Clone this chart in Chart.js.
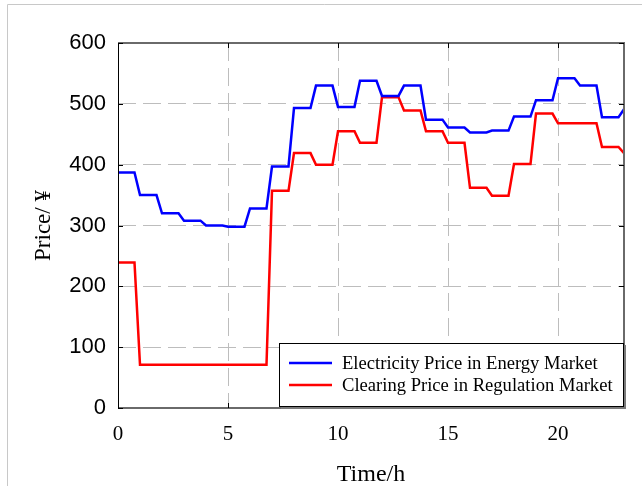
<!DOCTYPE html>
<html>
<head>
<meta charset="utf-8">
<script src="https://cdn.jsdelivr.net/npm/chart.js@4"></script>
<style>
html,body{margin:0;padding:0;background:#fff;}
#wrap{width:642px;height:486px;position:relative;}
</style>
</head>
<body>
<div id="wrap"><canvas id="c" width="642" height="486"></canvas></div>
<script>
const hours = [0,1,2,3,4,5,6,7,8,9,10,11,12,13,14,15,16,17,18,19,20,21,22,23];
const energyPrice = [387,350,320,308,300,298,328,397,493,530,495,538,513,530,474,461,453,456,479,506,542,530,478,491];
const regulationPrice = [239,71,71,71,71,71,71,357,419,400,455,436,511,489,455,436,362,349,401,484,468,468,429,419];
const xTicks = [0,5,10,15,20];
const yTicks = [0,100,200,300,400,500,600];
const seriesNames = ['Electricity Price in Energy Market','Clearing Price in Regulation Market'];
const holdFraction = 0.75; // each hourly value is held for this part of the hour

function toPoints(values){
  const pts = [];
  hours.forEach((h,i)=>{
    pts.push({x:h, y:values[i]});
    if (i < hours.length-1) pts.push({x:h+holdFraction, y:values[i]});
  });
  return pts;
}

const serif = "'Liberation Serif','Times New Roman',serif";
const sans = "'Liberation Sans',Arial,sans-serif";

const framePlugin = {
  id:'frame',
  beforeDraw(chart){
    const ctx = chart.ctx;
    ctx.save();
    ctx.strokeStyle = '#c8c8c8';
    ctx.lineWidth = 1;
    ctx.beginPath();
    ctx.moveTo(7.5,486); ctx.lineTo(7.5,4.5); ctx.lineTo(642,4.5);
    ctx.stroke();
    ctx.restore();
  },
  afterDatasetsDraw(chart){
    const ctx = chart.ctx;
    const a = chart.chartArea;
    const xs = chart.scales.x, ys = chart.scales.y;
    ctx.save();
    ctx.strokeStyle = '#6a6a6a';
    ctx.lineWidth = 2;
    ctx.beginPath();
    ctx.moveTo(a.left, a.top); ctx.lineTo(a.right, a.top); ctx.lineTo(a.right, a.bottom); ctx.lineTo(a.left, a.bottom);
    ctx.stroke();
    ctx.strokeStyle = '#000';
    ctx.lineWidth = 1;
    ctx.beginPath();
    ctx.moveTo(a.left+0.5, a.top); ctx.lineTo(a.left+0.5, a.bottom);
    ctx.stroke();
    ctx.beginPath();
    xTicks.forEach(v=>{
      const px = Math.round(xs.getPixelForValue(v))+0.5;
      ctx.moveTo(px, a.bottom); ctx.lineTo(px, a.bottom-5);
      ctx.moveTo(px, a.top); ctx.lineTo(px, a.top+5);
    });
    yTicks.forEach(v=>{
      const py = Math.round(ys.getPixelForValue(v))+0.5;
      ctx.moveTo(a.left, py); ctx.lineTo(a.left+5, py);
      ctx.moveTo(a.right, py); ctx.lineTo(a.right-5, py);
    });
    ctx.stroke();
    // legend
    const bx=279, by=343, bw=344, bh=63;
    ctx.fillStyle='#fff';
    ctx.fillRect(bx,by,bw,bh);
    ctx.strokeStyle='#000';
    ctx.lineWidth=1;
    ctx.strokeRect(bx+0.5,by+0.5,bw,bh);
    ctx.strokeStyle='#7a7a7a';
    ctx.lineWidth=2;
    ctx.beginPath();
    ctx.moveTo(bx+2,by+bh+2); ctx.lineTo(bx+bw+2,by+bh+2); ctx.lineTo(bx+bw+2,by+2);
    ctx.stroke();
    const rows=[363,385];
    chart.data.datasets.forEach((ds,i)=>{
      ctx.strokeStyle=ds.borderColor;
      ctx.lineWidth=2.5;
      ctx.beginPath();
      ctx.moveTo(289,rows[i]); ctx.lineTo(332,rows[i]);
      ctx.stroke();
      ctx.fillStyle='#000';
      ctx.font='18.6px '+serif;
      ctx.textBaseline='middle';
      ctx.textAlign='left';
      ctx.fillText(ds.label,342,rows[i]+1);
    });
    ctx.restore();
  }
};

new Chart(document.getElementById('c'),{
  type:'line',
  data:{
    datasets:[
      {label:seriesNames[0], data:toPoints(energyPrice), borderColor:'#0000ff', borderWidth:2.5, pointRadius:0, tension:0, fill:false},
      {label:seriesNames[1], data:toPoints(regulationPrice), borderColor:'#ff0000', borderWidth:2.5, pointRadius:0, tension:0, fill:false}
    ]
  },
  options:{
    responsive:false,
    animation:false,
    events:[],
    layout:{padding:{top:43,right:18,left:0,bottom:0}},
    plugins:{legend:{display:false},tooltip:{enabled:false}},
    scales:{
      x:{
        type:'linear', min:0, max:23,
        afterBuildTicks(s){ s.ticks = xTicks.map(v=>({value:v})); },
        afterFit(s){ s.height = 78; },
        ticks:{font:{family:serif,size:21},color:'#000',padding:14,maxRotation:0},
        grid:{color:'#bdbdbd',lineWidth:1,drawTicks:false},
        border:{display:false,dash:[18,7]},
        title:{display:true,text:'Time/h',font:{family:serif,size:24,lineHeight:1},color:'#000',padding:{top:0,bottom:-1}}
      },
      y:{
        min:0, max:600,
        afterBuildTicks(s){ s.ticks = yTicks.map(v=>({value:v})); },
        afterFit(s){ s.width = 118; },
        ticks:{font:{family:sans,size:22},color:'#000',padding:12},
        grid:{color:'#bdbdbd',lineWidth:1,drawTicks:false},
        border:{display:false,dash:[18,7]},
        title:{display:true,text:'Price/ ¥',font:{family:serif,size:23,lineHeight:1},color:'#000',padding:{top:32,bottom:0}}
      }
    }
  },
  plugins:[framePlugin]
});
</script>
</body>
</html>
